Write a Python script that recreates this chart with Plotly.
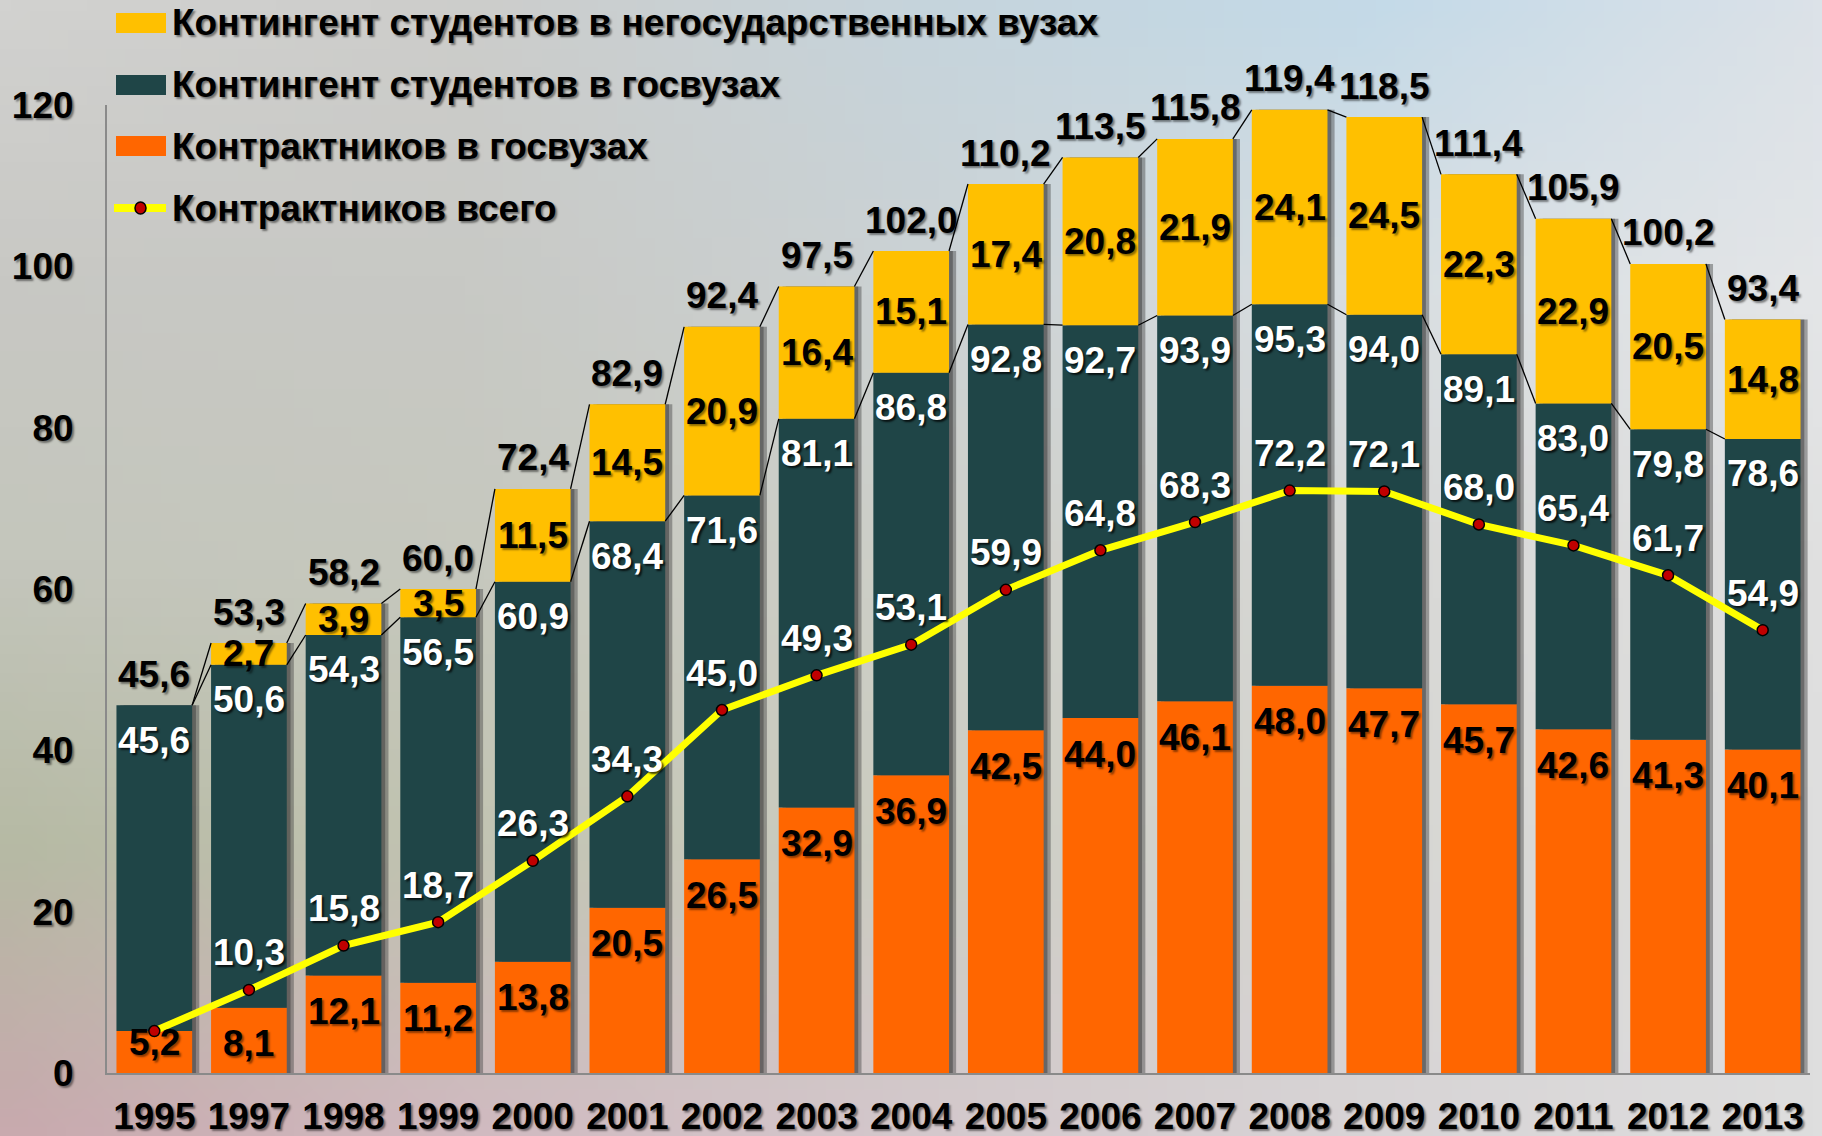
import base64
import struct
import zlib

import numpy as np
import plotly.graph_objects as go

# ---------------- data ----------------
years = ["1995", "1997", "1998", "1999", "2000", "2001", "2002", "2003", "2004",
         "2005", "2006", "2007", "2008", "2009", "2010", "2011", "2012", "2013"]
contract_state = [5.2, 8.1, 12.1, 11.2, 13.8, 20.5, 26.5, 32.9, 36.9,
                  42.5, 44.0, 46.1, 48.0, 47.7, 45.7, 42.6, 41.3, 40.1]
state_total = [45.6, 50.6, 54.3, 56.5, 60.9, 68.4, 71.6, 81.1, 86.8,
               92.8, 92.7, 93.9, 95.3, 94.0, 89.1, 83.0, 79.8, 78.6]
nonstate_total = [0.0, 2.7, 3.9, 3.5, 11.5, 14.5, 20.9, 16.4, 15.1,
                  17.4, 20.8, 21.9, 24.1, 24.5, 22.3, 22.9, 20.5, 14.8]
grand_total = [45.6, 53.3, 58.2, 60.0, 72.4, 82.9, 92.4, 97.5, 102.0,
               110.2, 113.5, 115.8, 119.4, 118.5, 111.4, 105.9, 100.2, 93.4]
contract_all = [5.2, 10.3, 15.8, 18.7, 26.3, 34.3, 45.0, 49.3, 53.1,
                59.9, 64.8, 68.3, 72.2, 72.1, 68.0, 65.4, 61.7, 54.9]
y_ticks = [0, 20, 40, 60, 80, 100, 120]

legend_names = ["Контингент студентов в негосударственных вузах",
                "Контингент студентов в госвузах",
                "Контрактников в госвузах",
                "Контрактников всего"]

# ---------------- style / layout ----------------
W, H = 1822, 1136
ML, MR, MT, MB = 107, 12, 105, 63
PW, PH = W - ML - MR, H - MT - MB
YMAX = 120
PPU = PH / YMAX
FONT = "Arial, 'Liberation Sans', sans-serif"
FS = 37
C_ORANGE = "#FF6600"
C_DARK = "#1F4547"
C_YELLOW = "#FFC000"
C_LINE = "#FFFF00"
C_DOT = "#C00000"
SH_BLACK = "2px 2px 2px rgba(0,0,0,0.45)"
SH_WHITE = "2px 2px 2px rgba(0,0,0,0.75)"
BAR_W = 0.8

n = len(years)
xs = np.arange(n)
cs = np.array(contract_state)
st = np.array(state_total)
ns = np.array(nonstate_total)
top = st + ns


def px_to_paper_x(px):
    return (px - ML) / PW


def px_to_paper_y(py):
    return 1 - (py - MT) / PH


# background gradient image
anchors = np.array([
    [[0xd2, 0xd2, 0xd0], [0xcd, 0xcd, 0xcb], [0xc6, 0xd4, 0xdc], [0xc4, 0xda, 0xe8], [0xdc, 0xe2, 0xe8]],
    [[0xc8, 0xc8, 0xc4], [0xc8, 0xc9, 0xc5], [0xcc, 0xd2, 0xd4], [0xd8, 0xde, 0xe2], [0xe4, 0xe6, 0xe8]],
    [[0xc4, 0xc6, 0xbc], [0xc6, 0xc8, 0xbe], [0xce, 0xcf, 0xc8], [0xd8, 0xd8, 0xd6], [0xe0, 0xe0, 0xe0]],
    [[0xb6, 0xba, 0xa4], [0xc2, 0xc4, 0xb2], [0xcc, 0xcd, 0xc2], [0xd6, 0xd6, 0xd2], [0xde, 0xde, 0xde]],
    [[0xc8, 0xaa, 0xae], [0xd0, 0xba, 0xc0], [0xd4, 0xc8, 0xcc], [0xd8, 0xd4, 0xd6], [0xde, 0xde, 0xde]],
], dtype=float)
gw, gh = 96, 60
gx = np.linspace(0, anchors.shape[1] - 1, gw)
gy = np.linspace(0, anchors.shape[0] - 1, gh)
img = np.zeros((gh, gw, 3))
for j, yy in enumerate(gy):
    y0 = min(int(yy), anchors.shape[0] - 2)
    fy = yy - y0
    row = anchors[y0] * (1 - fy) + anchors[y0 + 1] * fy
    for i, xx in enumerate(gx):
        x0 = min(int(xx), anchors.shape[1] - 2)
        fx = xx - x0
        img[j, i] = row[x0] * (1 - fx) + row[x0 + 1] * fx
img = np.clip(img, 0, 255).astype(np.uint8)


def png_uri(arr):
    h, w, _ = arr.shape
    raw = b"".join(b"\x00" + arr[r].tobytes() for r in range(h))

    def chunk(t, d):
        c = struct.pack(">I", len(d)) + t + d
        return c + struct.pack(">I", zlib.crc32(t + d) & 0xFFFFFFFF)

    png = (b"\x89PNG\r\n\x1a\n"
           + chunk(b"IHDR", struct.pack(">IIBBBBB", w, h, 8, 2, 0, 0, 0))
           + chunk(b"IDAT", zlib.compress(raw))
           + chunk(b"IEND", b""))
    return "data:image/png;base64," + base64.b64encode(png).decode()


fig = go.Figure()

# bar shadows
fig.add_trace(go.Bar(x=xs, y=top, base=0, width=BAR_W, offset=-BAR_W / 2 + 0.075,
                     marker=dict(color="rgba(70,70,70,0.45)", line=dict(width=0)),
                     hoverinfo="skip", showlegend=False))
fig.add_trace(go.Bar(x=xs, y=top, base=0, width=BAR_W, offset=-BAR_W / 2 + 0.04,
                     marker=dict(color="rgba(50,50,50,0.45)", line=dict(width=0)),
                     hoverinfo="skip", showlegend=False))

# stacked segments (explicit bases)
fig.add_trace(go.Bar(x=xs, y=cs, base=0, width=BAR_W, name=legend_names[2],
                     marker=dict(color=C_ORANGE, line=dict(width=0)), showlegend=False))
fig.add_trace(go.Bar(x=xs, y=st - cs, base=cs, width=BAR_W, name=legend_names[1],
                     marker=dict(color=C_DARK, line=dict(width=0)), showlegend=False))
fig.add_trace(go.Bar(x=xs, y=ns, base=st, width=BAR_W, name=legend_names[0],
                     marker=dict(color=C_YELLOW, line=dict(width=0)), showlegend=False))

# series connector lines
shapes = []
for i in range(n - 1):
    for series in (st, top):
        shapes.append(dict(type="line", xref="x", yref="y",
                           x0=xs[i] + BAR_W / 2, y0=series[i],
                           x1=xs[i + 1] - BAR_W / 2, y1=series[i + 1],
                           line=dict(color="black", width=1.3), layer="above"))

# total contract line
fig.add_trace(go.Scatter(x=xs, y=contract_all, mode="lines+markers", name=legend_names[3],
                         line=dict(color=C_LINE, width=7),
                         marker=dict(size=11, color=C_DOT, line=dict(color="black", width=1.5)),
                         showlegend=False))

ann = []


def lab(x, y, text, color, shadow, yshift=0):
    ann.append(dict(x=x, y=y, xref="x", yref="y", text=text, showarrow=False,
                    yshift=yshift, xanchor="center", yanchor="middle",
                    font=dict(family=FONT, size=FS, color=color, weight="bold", shadow=shadow)))


def fmt(v):
    return f"{v:.1f}".replace(".", ",")


for i in range(n):
    # orange (contract in state universities)
    shift = -min(36, cs[i] * PPU - 30)
    lab(xs[i], cs[i], fmt(cs[i]), "black", SH_BLACK, shift)
    # state total (white, inside top of dark segment)
    lab(xs[i], st[i], fmt(st[i]), "white", SH_WHITE, -35)
    # non-state (middle of yellow)
    if ns[i] > 0:
        lab(xs[i], st[i] + ns[i] / 2, fmt(ns[i]), "black", SH_BLACK, 0)
    # grand total above bar
    lab(xs[i], top[i], fmt(grand_total[i]), "black", SH_BLACK, 31)
    # line labels
    if abs(contract_all[i] - contract_state[i]) > 1e-9:
        lab(xs[i], contract_all[i], fmt(contract_all[i]), "white", SH_WHITE, 37)

# manual legend
leg_rows = [23, 85, 146, 208]
leg_colors = [C_YELLOW, C_DARK, C_ORANGE]
for k in range(3):
    cy = leg_rows[k]
    shapes.append(dict(type="rect", xref="paper", yref="paper",
                       x0=px_to_paper_x(116), x1=px_to_paper_x(166),
                       y0=px_to_paper_y(cy + 10), y1=px_to_paper_y(cy - 10),
                       fillcolor=leg_colors[k], line=dict(width=0), layer="above"))
cy = leg_rows[3]
shapes.append(dict(type="line", xref="paper", yref="paper",
                   x0=px_to_paper_x(114), x1=px_to_paper_x(166),
                   y0=px_to_paper_y(cy), y1=px_to_paper_y(cy),
                   line=dict(color=C_LINE, width=8), layer="above"))
shapes.append(dict(type="circle", xref="paper", yref="paper",
                   x0=px_to_paper_x(135), x1=px_to_paper_x(146),
                   y0=px_to_paper_y(cy + 6), y1=px_to_paper_y(cy - 6),
                   fillcolor=C_DOT, line=dict(color="black", width=1.5), layer="above"))
for k in range(4):
    ann.append(dict(x=px_to_paper_x(170), y=px_to_paper_y(leg_rows[k]), xref="paper", yref="paper",
                    text=legend_names[k], showarrow=False, xanchor="left", yanchor="middle",
                    font=dict(family=FONT, size=FS, color="black", weight="bold", shadow=SH_BLACK)))

fig.update_layout(
    width=W, height=H,
    margin=dict(l=ML, r=MR, t=MT, b=MB, pad=0, autoexpand=False),
    barmode="overlay",
    paper_bgcolor="#cfcfcc",
    plot_bgcolor="rgba(0,0,0,0)",
    font=dict(family=FONT, size=FS, color="black"),
    shapes=shapes,
    annotations=ann,
    images=[dict(source=png_uri(img), xref="paper", yref="paper",
                 x=-ML / PW, y=1 + MT / PH, sizex=W / PW, sizey=H / PH,
                 xanchor="left", yanchor="top", sizing="stretch", layer="below")],
    showlegend=False,
)
fig.update_xaxes(range=[-0.5, n - 0.5], tickvals=xs, ticktext=years, automargin=False,
                 showgrid=False, zeroline=False, showline=True, linecolor="#8a8a8a", linewidth=2,
                 ticks="", ticklabelstandoff=10,
                 tickfont=dict(family=FONT, size=FS, color="black", weight="bold", shadow=SH_BLACK))
fig.update_yaxes(range=[0, YMAX], tickvals=y_ticks, automargin=False,
                 showgrid=False, zeroline=False, showline=True, linecolor="#8a8a8a", linewidth=2,
                 ticks="", ticklabelstandoff=24,
                 tickfont=dict(family=FONT, size=FS, color="black", weight="bold", shadow=SH_BLACK))

fig.write_html(
    "out.html",
    config={"displayModeBar": False},
    post_script="document.body.style.margin='0';document.body.style.overflow='hidden';",
)
